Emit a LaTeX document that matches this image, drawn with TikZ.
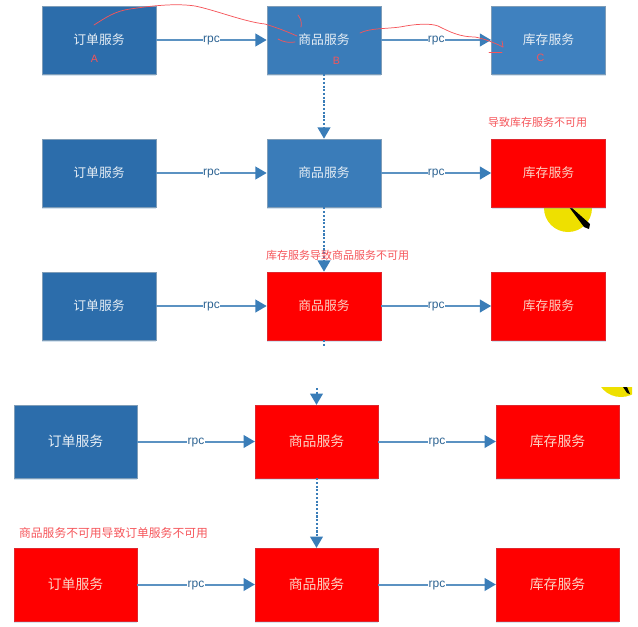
\documentclass[tikz,border=0pt]{standalone}
\usepackage{fontspec}
\setmainfont{Noto Sans CJK SC}
\newfontfamily\rpcfont{Liberation Sans}
\usetikzlibrary{arrows.meta,shadows}
\definecolor{bluea}{HTML}{2C6DAB}
\definecolor{blueb}{HTML}{3A7CB9}
\definecolor{bluec}{HTML}{3F81BF}
\definecolor{linec}{HTML}{5B92C2}
\definecolor{tipc}{HTML}{3A7DB8}
\definecolor{inkc}{HTML}{F5555A}
\definecolor{edgeb}{HTML}{7F9DB8}
\definecolor{soft}{HTML}{E6EEF5}
\definecolor{softred}{HTML}{FBD3C4}
\definecolor{hilite}{HTML}{EEE000}
\tikzset{
  svc/.style={draw=edgeb,line width=.45pt,font=\fontsize{9.6pt}{11pt}\selectfont,inner sep=0pt,
    drop shadow={shadow xshift=0pt,shadow yshift=-1.5pt,fill=linec,opacity=.25}},
  small/.style={minimum width=85.5pt,minimum height=51pt},
  big/.style={minimum width=92pt,minimum height=54.5pt,font=\fontsize{10.4pt}{12pt}\selectfont},
  blueA/.style={svc,fill=bluea,text=soft},
  blueB/.style={svc,fill=blueb,text=soft},
  blueC/.style={svc,fill=bluec,text=soft},
  redbox/.style={svc,fill=red,text=softred,draw=red!75!edgeb},
  conn/.style={draw=linec,line width=1.5pt,-{Triangle[length=8.5pt,width=9.5pt,color=tipc]}},
  dots/.style={draw=tipc,line width=1.5pt,dash pattern=on 1.6pt off 1.2pt,-{Triangle[length=8.5pt,width=9.5pt,color=tipc]}},
  stub/.style={draw=tipc,line width=1.5pt,dash pattern=on 1.6pt off 1.2pt},
  rpclab/.style={fill=white,inner xsep=.2pt,inner ysep=0pt,text height=4.4pt,text depth=0pt,text=tipc!80!black,font=\rpcfont\fontsize{9pt}{9pt}\selectfont},
  warn/.style={text=inkc,inner sep=0pt,font=\fontsize{8.25pt}{10pt}\selectfont},
  warnb/.style={text=inkc,inner sep=0pt,font=\fontsize{8.85pt}{10pt}\selectfont},
  ink/.style={draw=inkc,line width=.55pt,line cap=round,line join=round},
  letter/.style={text=inkc,inner sep=0pt,font=\rpcfont\fontsize{8pt}{9pt}\selectfont}
}
\begin{document}
\begin{tikzpicture}[x=.75pt,y=-.75pt]
\useasboundingbox (0,0) rectangle (638,626);
% highlight circles under the boxes
\fill[hilite] (568,208) circle[radius=24];
\fill[black] (569,207) -- (572,208) -- (590,224) -- (589,229) -- (584,227) -- cycle;
\begin{scope}
\clip (590,387) rectangle (632,400);
\fill[hilite] (621,372) circle[radius=25];
\fill[black] (623,387) -- (627,387) -- (630,394) -- (627,393) -- cycle;
\end{scope}
% row 1
\node[blueA,small] (a1) at (99,40) {订单服务};
\node[blueB,small] (b1) at (324,40) {商品服务};
\node[blueC,small] (c1) at (548.5,40) {库存服务};
% row 2
\node[blueA,small] (a2) at (99,173) {订单服务};
\node[blueB,small] (b2) at (324,173) {商品服务};
\node[redbox,small] (c2) at (548.5,173) {库存服务};
% row 3
\node[blueA,small] (a3) at (99,306) {订单服务};
\node[redbox,small] (b3) at (324,306) {商品服务};
\node[redbox,small] (c3) at (548.5,306) {库存服务};
% row 4
\node[blueA,big] (a4) at (75.5,441.5) {订单服务};
\node[redbox,big] (b4) at (316.5,441.5) {商品服务};
\node[redbox,big] (c4) at (557.5,441.5) {库存服务};
% row 5
\node[redbox,big] (a5) at (75.5,584.5) {订单服务};
\node[redbox,big] (b5) at (316.5,584.5) {商品服务};
\node[redbox,big] (c5) at (557.5,584.5) {库存服务};
% rpc connectors
\foreach \l/\r in {a1/b1,b1/c1,a2/b2,b2/c2,a3/b3,b3/c3,a4/b4,b4/c4,a5/b5,b5/c5}
  \draw[conn] (\l) -- node[rpclab]{rpc} (\r);
% dotted connectors
\coordinate (s3) at (324,346);
\coordinate (s4) at (316.5,388);
\draw[dots] (b1) -- (b2);
\draw[dots] (b2) -- (b3);
\draw[stub] (b3) -- (s3);
\draw[dots] (s4) -- (b4);
\draw[dots] (b4) -- (b5);
% labels
\node[warn] (w1) at (537.5,122) {导致库存服务不可用};
\node[warn] (w2) at (337.5,255) {库存服务导致商品服务不可用};
\node[warnb] (w3) at (113.5,533) {商品服务不可用导致订单服务不可用};
% handwriting
\node[letter] (la) at (94.5,59) {A};
\node[letter] (lb) at (336.5,61) {B};
\node[letter] (lc) at (540.5,58) {C};
\draw[ink] (94,25) .. controls (105,18) and (115,11) .. (130,9) .. controls (150,6) and (175,3) .. (195,6) .. controls (215,10) and (245,22) .. (265,24) .. controls (278,28) and (288,32) .. (297,36);
\draw[ink] (298,15) .. controls (301,19) and (302,23) .. (301,27);
\draw[ink] (278,39) .. controls (283,42) and (289,43) .. (295,42);
\draw[ink] (360,33) .. controls (370,28) and (385,29) .. (400,27) .. controls (415,24) and (430,23) .. (438,26) .. controls (450,32) and (460,37) .. (475,37) .. controls (485,39) and (495,43) .. (503,47);
\draw[ink] (502,41) -- (503,47);
\draw[ink] (489,52) -- (502,52);
\end{tikzpicture}
\end{document}
